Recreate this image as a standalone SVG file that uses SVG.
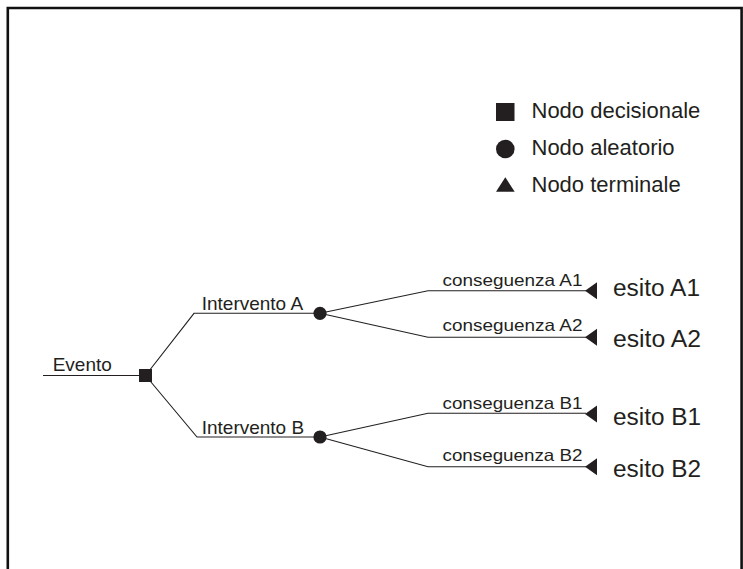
<svg xmlns="http://www.w3.org/2000/svg" width="743" height="569" viewBox="0 0 743 569">
  <style>
    text { font-family: "Liberation Sans", Arial, sans-serif; fill: #231f20; }
    .lbl { font-size: 19px; }
    .cons { font-size: 16.5px; }
    .out { font-size: 23.5px; }
    .leg { font-size: 22px; }
    .edge { fill: none; stroke: #231f20; stroke-width: 1.1; }
    .mark { fill: #231f20; }
  </style>
  <defs>
    <polygon id="term" points="0,0 12,-8.5 12,8.5"/>
  </defs>

  <!-- open frame -->
  <path d="M7.8,569 V8 H741.6 V569" fill="none" stroke="#111" stroke-width="2.6"/>

  <!-- legend -->
  <g id="legend">
    <rect class="mark" x="496" y="103" width="18.5" height="18"/>
    <text class="leg" x="531.5" y="117.5">Nodo decisionale</text>
    <circle class="mark" cx="505.3" cy="149" r="9.3"/>
    <text class="leg" x="531.5" y="155">Nodo aleatorio</text>
    <polygon class="mark" points="505.3,177.3 496,191.8 514.7,191.8"/>
    <text class="leg" x="531.5" y="191.8">Nodo terminale</text>
  </g>

  <!-- connectors -->
  <g id="connectors">
    <path class="edge" d="M43,375.5 H145.5"/>
    <path class="edge" d="M145.5,375.5 L194,313.3 H320"/>
    <path class="edge" d="M145.5,375.5 L197,437 H320"/>
    <path class="edge" d="M320,313.3 L428,290.7 H586"/>
    <path class="edge" d="M320,313.3 L428,337.3 H586"/>
    <path class="edge" d="M320,437 L428,413.3 H586"/>
    <path class="edge" d="M320,437 L428,466.7 H586"/>
  </g>

  <!-- edge labels -->
  <g id="edge-labels">
    <text class="lbl" x="52.7" y="370.7">Evento</text>
    <text class="lbl" x="201.7" y="310">Intervento A</text>
    <text class="lbl" x="201.7" y="434">Intervento B</text>
    <text class="cons" x="442.5" y="285.5" textLength="140" lengthAdjust="spacingAndGlyphs">conseguenza A1</text>
    <text class="cons" x="442.5" y="331" textLength="140" lengthAdjust="spacingAndGlyphs">conseguenza A2</text>
    <text class="cons" x="442.5" y="408.5" textLength="140" lengthAdjust="spacingAndGlyphs">conseguenza B1</text>
    <text class="cons" x="442.5" y="461" textLength="140" lengthAdjust="spacingAndGlyphs">conseguenza B2</text>
  </g>

  <!-- decision node -->
  <g id="decision">
    <rect class="mark" x="139" y="369" width="13" height="13"/>
  </g>

  <!-- chance nodes -->
  <g id="chance-A">
    <circle class="mark" cx="320" cy="313.3" r="6.6"/>
  </g>
  <g id="chance-B">
    <circle class="mark" cx="320" cy="437" r="6.6"/>
  </g>

  <!-- terminal nodes -->
  <g id="terminal-A1">
    <use href="#term" class="mark" x="585" y="290.8"/>
    <text class="out" x="613" y="296" textLength="87" lengthAdjust="spacingAndGlyphs">esito A1</text>
  </g>
  <g id="terminal-A2">
    <use href="#term" class="mark" x="585" y="337.2"/>
    <text class="out" x="613" y="347" textLength="88" lengthAdjust="spacingAndGlyphs">esito A2</text>
  </g>
  <g id="terminal-B1">
    <use href="#term" class="mark" x="585" y="414"/>
    <text class="out" x="613" y="425" textLength="88" lengthAdjust="spacingAndGlyphs">esito B1</text>
  </g>
  <g id="terminal-B2">
    <use href="#term" class="mark" x="585" y="466.8"/>
    <text class="out" x="613" y="476.7" textLength="88" lengthAdjust="spacingAndGlyphs">esito B2</text>
  </g>
</svg>
